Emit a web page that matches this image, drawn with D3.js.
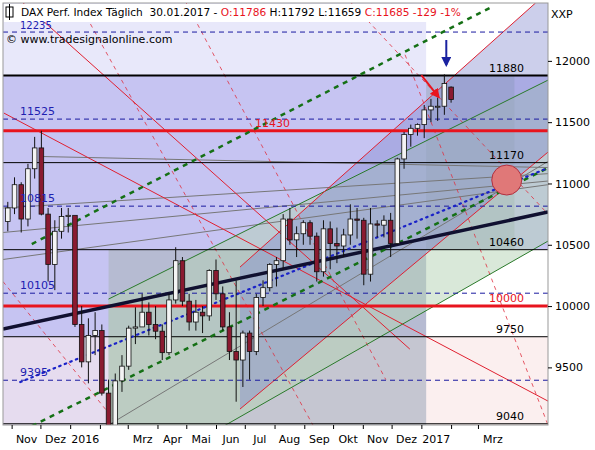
<!DOCTYPE html>
<html><head><meta charset="utf-8">
<script src="https://cdn.jsdelivr.net/npm/d3@7"></script>
<style>body{margin:0;background:#fff}text{font-family:Verdana,"DejaVu Sans",sans-serif}</style>
</head><body>
<svg id="c" width="595" height="450"></svg>
<script>
// weekly candles, first week starts Mon 26.10.2015
const firstWeek = '2015-10-26';
const opens  = [10690,10800,10990,10710,11120,11290,10750,10340,10610,10730,10740,9850,9545,9760,9800,9290,8970,9390,9510,9820,9830,9950,9850,9795,9620,10050,10370,10040,9870,9950,9920,10290,10100,9830,9630,9560,9780,9630,10070,10150,10340,10370,10710,10540,10590,10680,10570,10280,10630,10510,10490,10580,10710,10700,10260,10670,10660,10700,10510,11200,11400,11450,11480,11600,11630,11630,11786];
const closes = [10800,10990,10710,11120,11290,10750,10340,10610,10730,10740,9850,9545,9760,9800,9290,8970,9390,9510,9820,9830,9950,9850,9795,9620,10050,10370,10040,9870,9950,9920,10290,10100,9830,9630,9560,9780,9630,10070,10150,10340,10370,10710,10540,10590,10680,10570,10280,10630,10510,10490,10580,10710,10700,10260,10670,10660,10700,10510,11200,11400,11450,11480,11600,11630,11630,11815,11685];
const highs  = [10850,11050,11010,11160,11380,11430,10800,10700,10800,10800,10500,10000,9900,9950,9850,9400,9450,9600,9840,9990,10100,10030,10000,9850,10100,10480,10400,10100,10050,10000,10300,10380,10160,9950,10210,9800,9800,10100,10210,10350,10400,10750,10800,10650,10700,10700,10600,10700,10690,10640,10630,10830,10800,10720,10800,10700,10740,10760,11210,11420,11480,11490,11640,11690,11700,11890,11792];
const lows   = [10610,10750,10600,10650,11040,10740,10200,10130,10550,10600,9830,9500,9370,9600,9270,8700,8960,9300,9480,9690,9830,9760,9730,9560,9600,10020,10000,9800,9800,9780,9880,10050,9800,9560,9220,9340,9400,9600,10000,10120,10160,10300,10500,10400,10500,10500,10200,10240,10300,10350,10400,10500,10550,10170,10200,10560,10560,10400,10500,11120,11300,11390,11370,11500,11510,11560,11659];

const blueLevels  = [12235, 11525, 10815, 10105, 9395];
const blackLevels = [11880, 11170, 10460, 9750, 9040];
const redLevels   = [11430, 10000];
const yTicks = [9500, 10000, 10500, 11000, 11500, 12000];
const monthNames = ['2016','Feb','Mrz','Apr','Mai','Jun','Jul','Aug','Sep','Okt','Nov','Dez'];
const headerParts = [['DAX Perf. Index Täglich  30.01.2017 - ', '#000'], ['O:11786 ', '#e8141e'], ['H:11792 L:11659 ', '#000'], ['C:11685 -129 -1%', '#e8141e']];

// trend lines: [date1, value1, date2, value2]
const greenChannel = [['2016-05-11',8891,'2017-05-13',10530],['2016-02-10',10057,'2017-05-13',11843]];
const redChannel = [['2016-06-26',9160,'2017-05-13',11256],['2016-06-26',10318,'2017-04-30',12472]];
const blackTrend = ['2015-10-23',9812,'2017-05-13',10767];
const blueDotted = ['2015-11-10',9380,'2017-05-13',11126];
const greenDashed = [['2015-11-22',9021,'2017-05-13',11126],['2015-11-22',10506,'2017-03-17',12447]];
const redThin = [['2015-10-24',11574,'2017-05-13',9225],['2015-11-13',12472,'2016-12-20',9649]];
const redDashed = [['2016-01-10',12472,'2016-09-10',9030],['2015-10-23',10200,'2016-02-20',9030],['2016-05-01',12472,'2016-11-25',9400],['2016-10-20',12472,'2017-05-13',10750],['2016-12-15',12050,'2017-05-13',9030]];
const grayFan = [['2015-10-23',10600,'2017-05-13',11020],['2015-10-23',10800,'2017-05-13',11080],['2015-12-01',11220,'2017-05-13',11130],['2015-10-23',10380,'2017-05-13',10990],['2016-02-10',9030,'2017-05-13',11180]];
const circlePt = ['2017-03-31', 11028];

const L = 3, R = 548, T = 3, B = 425;
const svg = d3.select('#c');
const p = d3.timeParse('%Y-%m-%d');
const x = d3.scaleTime().domain([p('2015-10-23'), p('2017-05-13')]).range([L, R]);
const y = d3.scaleLinear().domain([9030, 12472]).range([B, T]);
const dates = closes.map((d, i) => d3.timeDay.offset(p(firstWeek), i * 7 + 2));

svg.append('clipPath').attr('id', 'clip').append('rect').attr('x', L).attr('y', T).attr('width', R - L).attr('height', B - T);
const g = svg.append('g').attr('clip-path', 'url(#clip)');

// backgrounds
const xJan = x(p('2017-01-06')), xApr = x(p('2017-04-08')), xFeb = x(p('2016-02-10'));
g.append('rect').attr('x', L).attr('y', T).attr('width', R - L).attr('height', B - T).attr('fill', '#e6dcef');
g.append('rect').attr('x', L).attr('y', T).attr('width', R - L).attr('height', y(11880) - T).attr('fill', '#e8e8fa');
g.append('rect').attr('x', xJan).attr('y', T).attr('width', R - xJan).attr('height', y(11880) - T).attr('fill', '#fff');
g.append('rect').attr('x', L).attr('y', y(11880)).attr('width', R - L).attr('height', y(10460) - y(11880)).attr('fill', '#c6c4f2');
g.append('rect').attr('x', L).attr('y', y(10460)).attr('width', xJan - L).attr('height', y(9750) - y(10460)).attr('fill', '#c6c4f2');
g.append('rect').attr('x', xJan).attr('y', y(9750)).attr('width', R - xJan).attr('height', B - y(9750)).attr('fill', '#fbefef');
g.append('rect').attr('x', xJan).attr('y', y(10460)).attr('width', R - xJan).attr('height', y(9750) - y(10460)).attr('fill', '#ffffff');
g.append('rect').attr('x', xFeb).attr('y', y(10460)).attr('width', xJan - xFeb).attr('height', B - y(10460)).attr('fill', '#a9b4b8').attr('opacity', 0.55);
g.append('rect').attr('x', xJan).attr('y', y(11880)).attr('width', xApr - xJan).attr('height', y(10460) - y(11880)).attr('fill', '#9aa8b8').attr('opacity', 0.5);

function lineAt(l, t) { // value at date along line
  const t1 = p(l[0]), t2 = p(l[2]);
  return l[1] + (l[3] - l[1]) * (t - t1) / (t2 - t1);
}
function band(a, b, from, to, fill, op) {
  const t1 = p(from), t2 = p(to);
  const pts = [[t1, lineAt(a, t1)], [t2, lineAt(a, t2)], [t2, lineAt(b, t2)], [t1, lineAt(b, t1)]];
  g.append('path').attr('d', d3.line().x(d => x(d[0])).y(d => y(d[1]))(pts) + 'Z').attr('fill', fill).attr('opacity', op);
}
band(greenChannel[0], greenChannel[1], '2016-02-10', '2017-05-13', '#b4d2b4', 0.5);
band(redChannel[0], redChannel[1], '2016-06-26', '2017-05-13', '#7f88cc', 0.4);

function seg(l, stroke, w, dash) {
  return g.append('line').attr('x1', x(p(l[0]))).attr('y1', y(l[1])).attr('x2', x(p(l[2]))).attr('y2', y(l[3]))
    .attr('stroke', stroke).attr('stroke-width', w).attr('stroke-dasharray', dash || null);
}
grayFan.forEach(l => seg(l, '#777', 1));
redDashed.forEach(l => seg(l, '#e03040', 0.8, '4,4'));
redThin.forEach(l => seg(l, '#e02030', 1));
greenChannel.forEach(l => seg(l, '#2a7a2a', 1));
redChannel.forEach(l => seg(l, '#e02030', 1));

// horizontal levels
blackLevels.forEach(v => g.append('line').attr('x1', L).attr('x2', R).attr('y1', y(v)).attr('y2', y(v)).attr('stroke', '#000').attr('stroke-width', v === 11880 ? 2 : 1));
blueLevels.forEach(v => g.append('line').attr('x1', L).attr('x2', R).attr('y1', y(v)).attr('y2', y(v)).attr('stroke', '#1a1aa0').attr('stroke-dasharray', '5,4'));
redLevels.forEach(v => g.append('line').attr('x1', L).attr('x2', R).attr('y1', y(v)).attr('y2', y(v)).attr('stroke', '#e8141e').attr('stroke-width', 3));

greenDashed.forEach(l => seg(l, '#157015', 2.5, '5,5'));
seg(blueDotted, '#1a22c8', 2.2, '1.5,4.5').attr('stroke-linecap', 'round');
seg(blackTrend, '#101030', 3.5);

// candles
const cw = 4.6;
const cg = g.append('g');
cg.selectAll('line').data(closes).join('line')
  .attr('x1', (d, i) => x(dates[i])).attr('x2', (d, i) => x(dates[i]))
  .attr('y1', (d, i) => y(highs[i])).attr('y2', (d, i) => y(lows[i])).attr('stroke', '#111');
cg.selectAll('rect').data(closes).join('rect')
  .attr('x', (d, i) => x(dates[i]) - cw / 2).attr('width', cw)
  .attr('y', (d, i) => y(Math.max(d, opens[i])))
  .attr('height', (d, i) => Math.max(1, Math.abs(y(d) - y(opens[i]))))
  .attr('fill', (d, i) => d >= opens[i] ? '#f4f4f4' : '#8a1a30').attr('stroke', '#111').attr('stroke-width', 0.8);

// circle & arrows
g.append('circle').attr('cx', x(p(circlePt[0]))).attr('cy', y(circlePt[1])).attr('r', 15).attr('fill', '#e07878').attr('stroke', '#b03040');
svg.append('defs').html('<marker id="ar" viewBox="0 0 10 10" refX="8" refY="5" markerWidth="5" markerHeight="5" orient="auto"><path d="M0,0L10,5L0,10z" fill="#e8141e"/></marker><marker id="ab" viewBox="0 0 10 10" refX="8" refY="5" markerWidth="5" markerHeight="5" orient="auto"><path d="M0,0L10,5L0,10z" fill="#1a22a0"/></marker>');
g.append('line').attr('x1', x(p('2017-01-01'))).attr('y1', y(11884)).attr('x2', x(p('2017-01-19'))).attr('y2', y(11705)).attr('stroke', '#e8141e').attr('stroke-width', 2).attr('marker-end', 'url(#ar)');
g.append('line').attr('x1', x(p('2017-01-27'))).attr('y1', y(12170)).attr('x2', x(p('2017-01-27'))).attr('y2', y(11966)).attr('stroke', '#1a22a0').attr('stroke-width', 2).attr('marker-end', 'url(#ab)');

// header background
svg.append('rect').attr('x', L + 1).attr('y', T + 1).attr('width', 425).attr('height', 18).attr('fill', '#fff');

// level labels
blueLevels.forEach(v => svg.append('text').attr('x', 20).attr('y', y(v) - (v === 12235 ? 3 : 4)).attr('fill', '#2020b0').attr('font-size', v === 12235 ? 10 : 11).text(v));
blackLevels.forEach(v => svg.append('text').attr('x', 524).attr('y', y(v) - 4).attr('text-anchor', 'end').attr('fill', '#000').attr('font-size', 11).text(v));
svg.append('text').attr('x', 255).attr('y', y(11430) - 4).attr('fill', '#e8141e').attr('font-size', 11).text('11430');
svg.append('text').attr('x', 524).attr('y', y(10000) - 4).attr('text-anchor', 'end').attr('fill', '#e8141e').attr('font-size', 11).text('10000');

// frame & axes
svg.append('rect').attr('x', L).attr('y', T).attr('width', R - L).attr('height', B - T).attr('fill', 'none').attr('stroke', '#999');
const ya = svg.append('g').attr('transform', `translate(${R},0)`).call(d3.axisRight(y).tickValues(yTicks).tickSize(4).tickPadding(3).tickFormat(d3.format('d')));
ya.select('.domain').remove();
ya.selectAll('text').attr('font-size', 11).attr('font-family', 'Verdana, DejaVu Sans');
const months = d3.timeMonth.range(p('2015-11-01'), p('2017-04-01'));
const xa = svg.append('g').attr('transform', `translate(0,${B})`).call(d3.axisBottom(x).tickValues(months).tickSize(4).tickFormat(''));
xa.select('.domain').remove();
months.filter(m => m.getMonth() !== 1).forEach(m => {
  const lab = m.getMonth() === 0 ? String(m.getFullYear()) : monthNames[m.getMonth()];
  svg.append('text').attr('x', x(m) + 15).attr('y', B + 18).attr('text-anchor', 'middle').attr('font-size', 11).text(lab);
});

// header text, parts placed one after another
svg.append('rect').attr('x', 6).attr('y', 7).attr('width', 7).attr('height', 10).attr('fill', 'none').attr('stroke', '#000');
svg.append('line').attr('x1', 9.5).attr('x2', 9.5).attr('y1', 4).attr('y2', 20).attr('stroke', '#000');
let hx = 21;
headerParts.forEach(([t, c]) => {
  const el = svg.append('text').attr('x', hx).attr('y', 16).attr('font-size', 10.6).attr('fill', c).attr('xml:space', 'preserve').style('white-space', 'pre').text(t);
  hx += el.node().getComputedTextLength();
});
svg.append('text').attr('x', 6).attr('y', 43).attr('font-size', 11).text('© www.tradesignalonline.com');
svg.append('text').attr('x', 551).attr('y', 18).attr('font-size', 11).text('XXP');
</script>
</body></html>
